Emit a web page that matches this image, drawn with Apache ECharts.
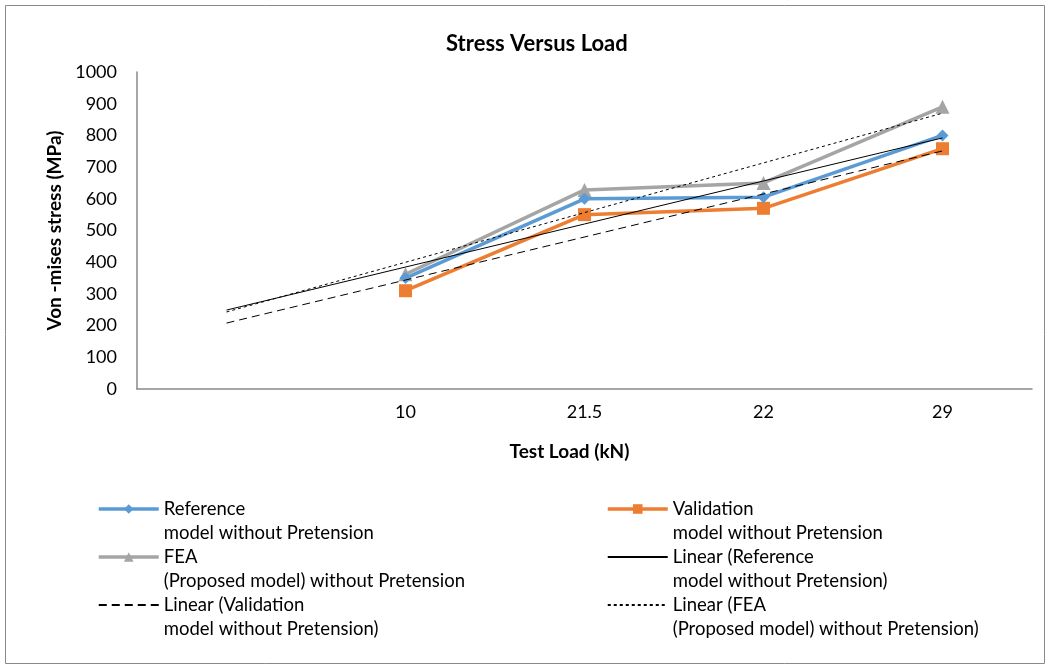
<!DOCTYPE html>
<html>
<head>
<meta charset="utf-8">
<title>Stress Versus Load</title>
<script src="https://cdn.jsdelivr.net/npm/echarts@6/dist/echarts.min.js"></script>
<style>
  html, body { margin: 0; padding: 0; background: #fff; }
  #chart { width: 1046px; height: 664px; }
</style>
</head>
<body>
<div id="chart"></div>
<script>
// first slot is empty: the trendlines are forecast one period back into it
const categories = ['', '10', '21.5', '22', '29'];
const referenceVals = [null, 350, 600, 605, 800];
const validationVals = [null, 310, 550, 570, 758];
const feaVals = [null, 362, 628, 650, 890];

// trendline end points: [slot index, value]
const trendReference = [[0, 249], [4, 792]];
const trendValidation = [[0, 208], [4, 751]];
const trendFea = [[0, 243], [4, 870]];

const yTicks = [0, 100, 200, 300, 400, 500, 600, 700, 800, 900, 1000];

const names = {
  ref: 'Reference\nmodel without Pretension',
  val: 'Validation\nmodel without Pretension',
  fea: 'FEA\n(Proposed model) without Pretension',
  linRef: 'Linear (Reference\nmodel without Pretension)',
  linVal: 'Linear (Validation\nmodel without Pretension)',
  linFea: 'Linear (FEA\n(Proposed model) without Pretension)'
};

const font = 'Lato, "Liberation Sans", sans-serif';
const chart = echarts.init(document.getElementById('chart'));

const legendText = {
  fontFamily: font,
  fontSize: 18.5,
  color: '#000',
  lineHeight: 24
};
// blank first line so the icon sits level with the first text line
const legendFormatter = name => '\n' + name;
const noSymbol = { opacity: 0 };
const thick = { width: 3.5 };

const option = {
  animation: false,
  graphic: [{
    type: 'rect',
    left: 3, top: 3,
    shape: { width: 1039, height: 658 },
    style: { fill: 'none', stroke: '#898989', lineWidth: 1 },
    silent: true,
    z: -1
  }],
  title: {
    text: 'Stress Versus Load',
    left: 441,
    top: 28,
    textStyle: { fontFamily: font, fontSize: 22, fontWeight: 'bold', color: '#000' }
  },
  legend: [
    {
      data: [
        { name: names.ref, lineStyle: thick },
        { name: names.fea, lineStyle: thick },
        { name: names.linVal, itemStyle: noSymbol }
      ],
      orient: 'vertical',
      left: 97,
      top: 473,
      padding: 0,
      itemWidth: 60,
      itemHeight: 12,
      itemGap: -24,
      formatter: legendFormatter,
      textStyle: legendText
    },
    {
      data: [
        { name: names.val, lineStyle: thick },
        { name: names.linRef, itemStyle: noSymbol },
        { name: names.linFea, itemStyle: noSymbol }
      ],
      orient: 'vertical',
      left: 606,
      top: 473,
      padding: 0,
      itemWidth: 60,
      itemHeight: 12,
      itemGap: -24,
      formatter: legendFormatter,
      textStyle: legendText
    }
  ],
  grid: { left: 137, right: 14, top: 72, bottom: 275, containLabel: false },
  xAxis: {
    type: 'category',
    data: categories,
    boundaryGap: true,
    name: 'Test Load (kN)',
    nameLocation: 'middle',
    nameGap: 53,
    nameTextStyle: { fontFamily: font, fontSize: 19, fontWeight: 'bold', color: '#000', padding: [0, 30, 0, 0] },
    axisLine: { lineStyle: { color: '#898989', width: 1.5 } },
    axisTick: { show: false },
    axisLabel: { fontFamily: font, fontSize: 18, color: '#000', margin: 14 },
    splitLine: { show: false }
  },
  yAxis: {
    type: 'value',
    min: yTicks[0],
    max: yTicks[yTicks.length - 1],
    interval: 100,
    name: 'Von -mises stress (MPa)',
    nameLocation: 'middle',
    nameGap: 66,
    nameTextStyle: { fontFamily: font, fontSize: 19, fontWeight: 'bold', color: '#000' },
    axisLine: { show: true, lineStyle: { color: '#898989', width: 1.5 } },
    axisTick: { show: false },
    axisLabel: { fontFamily: font, fontSize: 18, color: '#000', margin: 20, formatter: v => String(v) },
    splitLine: { show: false }
  },
  series: [
    {
      name: names.ref, type: 'line', data: referenceVals,
      symbol: 'diamond', symbolSize: 12,
      itemStyle: { color: '#5B9BD5' },
      lineStyle: { color: '#5B9BD5', width: 3.5 },
      z: 4
    },
    {
      name: names.val, type: 'line', data: validationVals,
      symbol: 'rect', symbolSize: 13,
      itemStyle: { color: '#ED7D31' },
      lineStyle: { color: '#ED7D31', width: 3.5 },
      z: 3
    },
    {
      name: names.fea, type: 'line', data: feaVals,
      symbol: 'triangle', symbolSize: 14,
      itemStyle: { color: '#A5A5A5' },
      lineStyle: { color: '#A5A5A5', width: 3.5 },
      z: 2
    },
    {
      name: names.linRef, type: 'line', data: trendReference,
      symbol: 'none',
      itemStyle: { color: '#000' },
      lineStyle: { color: '#000', width: 1 },
      z: 5
    },
    {
      name: names.linVal, type: 'line', data: trendValidation,
      symbol: 'none',
      itemStyle: { color: '#000' },
      lineStyle: { color: '#000', width: 1, type: [8, 5] },
      z: 5
    },
    {
      name: names.linFea, type: 'line', data: trendFea,
      symbol: 'none',
      itemStyle: { color: '#000' },
      lineStyle: { color: '#000', width: 1, type: [3, 3] },
      z: 5
    }
  ]
};

chart.setOption(option);
</script>
</body>
</html>
